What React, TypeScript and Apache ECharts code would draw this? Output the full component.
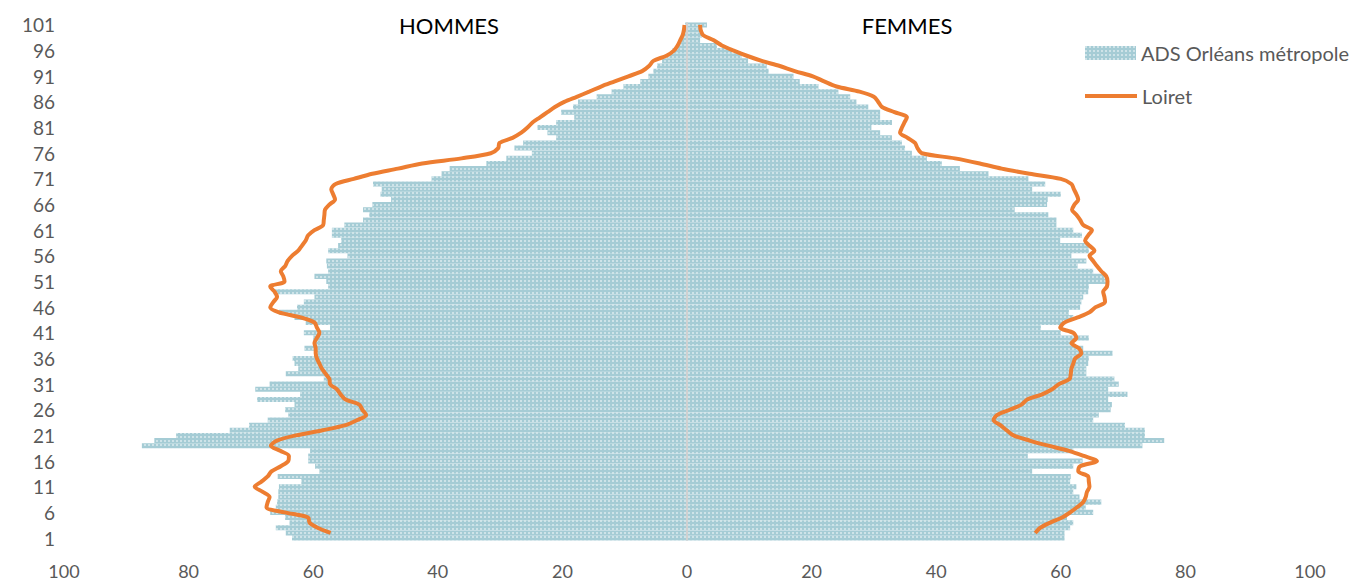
import React, { useEffect, useRef } from "react";
import * as echarts from "echarts";

// Ages 1 .. 101 (bottom to top)
const ages: string[] = Array.from({ length: 101 }, (_, i) => String(i + 1));

// ADS Orléans métropole — hommes (left side), ages 1..101
const hommesADS = [
  63.4, 64.4, 66.0, 63.8, 64.5, 66.9, 66.0, 65.8, 65.6, 65.6,
  65.5, 61.9, 65.7, 59.0, 59.7, 60.8, 60.8, 60.5, 87.5, 85.5,
  82.0, 73.4, 70.3, 67.3, 64.0, 64.5, 63.0, 69.0, 62.1, 69.3,
  67.0, 58.3, 64.4, 62.4, 63.0, 63.3, 59.8, 61.4, 60.0, 60.0,
  61.5, 57.3, 61.2, 63.0, 65.5, 62.6, 61.5, 59.8, 66.4, 57.6,
  57.9, 59.8, 57.6, 57.8, 57.9, 54.5, 57.6, 56.0, 55.5, 57.0,
  57.0, 55.0, 52.0, 51.0, 52.0, 50.5, 47.5, 49.2, 49.0, 50.4,
  41.0, 39.4, 38.1, 32.2, 29.0, 24.9, 27.7, 26.3, 21.0, 22.4,
  24.0, 21.0, 18.1, 20.2, 18.3, 17.5, 14.5, 12.1, 10.2, 7.5,
  6.2, 5.4, 4.8, 4.0, 3.2, 2.4, 1.6, 1.1, 0.8, 0.6, 0.3,
];

// ADS Orléans métropole — femmes (right side), ages 1..101
const femmesADS = [
  60.6, 60.6, 61.5, 62.0, 61.0, 65.2, 64.0, 66.5, 63.0, 62.0,
  62.5, 61.5, 61.6, 55.4, 62.0, 63.5, 54.7, 62.0, 73.1, 76.6,
  73.5, 73.5, 70.3, 65.2, 66.1, 68.0, 68.2, 67.6, 70.7, 67.6,
  69.3, 68.6, 64.1, 64.1, 64.4, 64.5, 68.3, 63.6, 61.7, 64.5,
  60.0, 56.8, 60.4, 62.0, 61.3, 63.1, 63.3, 63.6, 64.4, 64.5,
  67.3, 67.0, 65.2, 62.7, 64.1, 61.7, 64.5, 64.5, 59.9, 63.4,
  62.0, 59.3, 59.3, 58.0, 52.6, 57.8, 57.9, 60.0, 55.4, 57.5,
  54.8, 48.4, 43.8, 40.9, 38.5, 36.1, 35.0, 34.5, 32.9, 31.0,
  29.6, 32.9, 31.0, 31.0, 29.1, 27.2, 26.2, 24.3, 21.1, 18.1,
  17.1, 13.1, 12.8, 9.8, 8.8, 7.2, 4.8, 2.1, 2.4, 2.1, 3.2,
];

// Loiret — hommes, ages 1..101 (no value for age 1)
const hommesLoiret: (number | null)[] = [
  null, 57.2, 59.3, 60.6, 60.8, 64.6, 67.5, 67.3, 67.0, 68.1,
  69.4, 68.3, 67.3, 66.7, 65.2, 64.0, 63.9, 65.3, 66.8, 65.8,
  62.8, 58.5, 54.8, 52.9, 51.5, 52.1, 52.6, 54.8, 55.6, 56.2,
  57.3, 57.4, 58.0, 58.6, 59.0, 59.4, 59.6, 59.6, 59.8, 59.4,
  59.0, 59.4, 59.8, 62.0, 65.5, 66.9, 66.4, 65.8, 66.2, 66.9,
  64.6, 64.8, 65.2, 64.5, 64.1, 63.4, 62.4, 61.8, 61.2, 60.8,
  59.8, 58.4, 58.3, 58.2, 58.1, 57.4, 56.5, 56.8, 57.1, 56.4,
  53.5, 50.5, 46.4, 42.5, 36.2, 31.5, 30.3, 30.1, 28.0, 26.6,
  25.6, 24.8, 23.6, 22.4, 21.2, 19.7, 17.7, 15.7, 13.8, 11.6,
  9.4, 7.2, 6.1, 5.4, 3.3, 2.1, 1.5, 1.1, 0.7, 0.5, 0.4,
];

// Loiret — femmes, ages 1..101 (no value for age 1)
const femmesLoiret: (number | null)[] = [
  null, 55.9, 56.7, 58.3, 60.2, 61.5, 62.6, 63.6, 64.0, 64.2,
  64.6, 64.5, 64.4, 62.8, 63.1, 65.8, 63.7, 61.3, 58.0, 55.0,
  52.4, 51.3, 50.3, 49.2, 49.8, 51.8, 53.7, 54.6, 57.0, 58.6,
  59.7, 61.4, 61.6, 61.7, 62.0, 62.3, 63.3, 62.9, 61.7, 62.5,
  62.0, 59.9, 60.6, 62.7, 64.6, 65.6, 67.1, 67.0, 66.8, 67.4,
  67.5, 67.3, 66.5, 65.8, 65.2, 64.6, 65.4, 64.6, 63.9, 64.4,
  65.0, 63.6, 63.1, 62.5, 61.8, 62.2, 62.8, 62.5, 62.1, 61.7,
  60.0, 55.0, 50.5, 47.0, 43.0, 37.7, 37.0, 36.6, 35.4, 34.2,
  34.5, 34.9, 35.3, 33.3, 31.3, 30.7, 30.0, 27.7, 24.0, 22.0,
  20.2, 17.3, 14.9, 12.0, 9.6, 7.5, 5.6, 4.3, 2.6, 2.2, 2.1,
];

const xTicks = { min: -100, max: 100, interval: 20 };

const BAR_NAME = "ADS Orléans métropole";
const LINE_NAME = "Loiret";
const FONT = "Lato, 'Open Sans', sans-serif";
const BAR_COLOR = "#a5ccd5";
const LINE_COLOR = "#ED7D31";
const LABEL_COLOR = "#595959";

const barDecal = {
  symbol: "rect",
  symbolSize: 1,
  dashArrayX: [2, 2],
  dashArrayY: [2, 2],
  rotation: 0,
  color: "rgba(255,255,255,0.45)",
};

export default function App() {
  const ref = useRef<HTMLDivElement>(null);

  useEffect(() => {
    const chart = echarts.init(ref.current!, null, { renderer: "svg" });
    chart.setOption({
      animation: false,
      backgroundColor: "#ffffff",
      grid: {
        left: 64,
        right: 48,
        top: 22.4,
        bottom: 40.4,
        containLabel: false,
        outerBoundsMode: "none",
      },
      xAxis: {
        type: "value",
        min: xTicks.min,
        max: xTicks.max,
        interval: xTicks.interval,
        axisLine: { show: false },
        axisTick: { show: false },
        splitLine: { show: false },
        axisLabel: {
          formatter: (v: number) => String(Math.abs(v)),
          color: LABEL_COLOR,
          fontSize: 18,
          lineHeight: 18,
          fontFamily: FONT,
          margin: 21,
        },
      },
      yAxis: {
        type: "category",
        data: ages,
        axisLine: { show: false },
        axisTick: { show: false },
        splitLine: { show: false },
        axisLabel: {
          interval: 4,
          color: LABEL_COLOR,
          fontSize: 19,
          fontFamily: FONT,
          margin: 9,
        },
      },
      legend: [
        {
          data: [BAR_NAME],
          left: 1080,
          top: 38,
          icon: "rect",
          itemWidth: 51,
          itemHeight: 14,
          selectedMode: false,
          textStyle: { color: LABEL_COLOR, fontSize: 20, fontFamily: FONT, lineHeight: 20 },
        },
        {
          data: [LINE_NAME],
          left: 1080,
          top: 81,
          icon: "rect",
          itemWidth: 52,
          itemHeight: 4,
          selectedMode: false,
          textStyle: { color: LABEL_COLOR, fontSize: 20, fontFamily: FONT, lineHeight: 20 },
        },
      ],
      graphic: [
        {
          type: "text",
          x: 449,
          y: 25,
          style: {
            text: "HOMMES",
            fill: "#000000",
            font: `22px ${FONT}`,
            align: "center",
            verticalAlign: "middle",
          },
        },
        {
          type: "text",
          x: 907,
          y: 25,
          style: {
            text: "FEMMES",
            fill: "#000000",
            font: `22px ${FONT}`,
            align: "center",
            verticalAlign: "middle",
          },
        },
      ],
      series: [
        {
          name: BAR_NAME,
          type: "bar",
          stack: "pyramid",
          barCategoryGap: "2%",
          data: hommesADS.map((v) => -v),
          itemStyle: { color: BAR_COLOR, decal: barDecal },
          markLine: {
            silent: true,
            symbol: "none",
            label: { show: false },
            lineStyle: { color: "#d0d0d0", width: 2, type: "solid" },
            data: [{ xAxis: 0 }],
          },
        },
        {
          name: BAR_NAME,
          type: "bar",
          stack: "pyramid",
          barCategoryGap: "2%",
          data: femmesADS,
          itemStyle: { color: BAR_COLOR, decal: barDecal },
        },
        {
          name: LINE_NAME,
          type: "line",
          data: hommesLoiret.map((v) => (v == null ? null : -v)),
          symbol: "none",
          smooth: 0.3,
          color: LINE_COLOR,
          lineStyle: { color: LINE_COLOR, width: 4 },
        },
        {
          name: LINE_NAME,
          type: "line",
          data: femmesLoiret,
          symbol: "none",
          smooth: 0.3,
          color: LINE_COLOR,
          lineStyle: { color: LINE_COLOR, width: 4 },
        },
      ],
    });
    return () => chart.dispose();
  }, []);

  return (
    <div
      ref={ref}
      style={{ position: "absolute", left: 0, top: 0, width: 1358, height: 581 }}
    />
  );
}
